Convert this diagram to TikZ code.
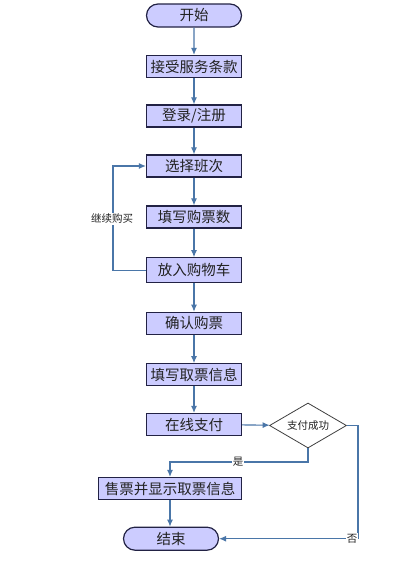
\documentclass[tikz,border=0pt]{standalone}
\usepackage{fontspec}
\setmainfont{Noto Sans CJK SC}
\usetikzlibrary{shapes.geometric,shapes.misc,arrows.meta}
\definecolor{boxfill}{HTML}{CCCCFF}
\definecolor{boxline}{HTML}{222244}
\definecolor{arrowc}{HTML}{4A76A8}
\definecolor{txt}{HTML}{222222}
\tikzset{
  x=1pt,y=-1pt,
  procbox/.style={draw=boxline,line width=1.2pt,fill=boxfill,minimum width=95pt,minimum height=22pt,inner sep=0pt,font=\fontsize{14.5}{14.5}\selectfont,text=txt},
  termbox/.style={procbox,rounded rectangle,minimum height=23pt},
  decbox/.style={diamond,draw=black!75,line width=0.8pt,fill=white,minimum width=77pt,minimum height=45pt,inner sep=0pt,aspect=1.7,font=\fontsize{10.5}{10.5}\selectfont,text=txt},
  flow/.style={draw=arrowc,line width=1.1pt,-{Latex[length=7pt,width=6pt]}},
  lbl/.style={font=\fontsize{10.5}{10.5}\selectfont,text=txt,fill=white,inner sep=1pt}
}
\begin{document}
\begin{tikzpicture}
\useasboundingbox[fill=white] (0,0) rectangle (400,568);
\node[termbox] (start) at (194,15.5) {开始};
\node[procbox] (terms) at (194,66.5) {接受服务条款};
\node[procbox] (login) at (194,116) {登录/注册};
\node[procbox] (choose) at (194,166) {选择班次};
\node[procbox] (count) at (194,217) {填写购票数};
\node[procbox,minimum height=25pt] (cart) at (194,270.3) {放入购物车};
\node[procbox] (confirm) at (194,323.3) {确认购票};
\node[procbox] (info) at (194,374.7) {填写取票信息};
\node[procbox] (pay) at (194,424.5) {在线支付};
\node[decbox] (ok) at (308,425.5) {支付成功};
\node[procbox,minimum width=143pt] (sell) at (170,488.5) {售票并显示取票信息};
\node[termbox] (end) at (171,538.7) {结束};
\coordinate (loopB) at (113,270.3);
\coordinate (loopT) at (113,166);
\coordinate (yesA) at (308,462);
\coordinate (yesB) at (170,462);
\coordinate (noA) at (358,425.5);
\coordinate (noB) at (358,538.7);
\draw[flow] (start) -- (terms);
\draw[flow] (terms) -- (login);
\draw[flow] (login) -- (choose);
\draw[flow] (choose) -- (count);
\draw[flow] (count) -- (cart);
\draw[flow] (cart) -- (confirm);
\draw[flow] (confirm) -- (info);
\draw[flow] (info) -- (pay);
\draw[flow] (pay) -- (ok);
\draw[flow] (cart.west) -- (loopB) -- (loopT) -- (choose.west);
\node[lbl] (loopL) at (112,219) {继续购买};
\draw[flow] (ok.south) -- (yesA) -- (yesB) -- (sell.north);
\node[lbl] (yesL) at (238,462) {是};
\draw[flow] (ok.east) -- (noA) -- (noB) -- (end.east);
\node[lbl] (noL) at (352,538.7) {否};
\draw[flow] (sell) -- (end.north -| sell);
\end{tikzpicture}
\end{document}
